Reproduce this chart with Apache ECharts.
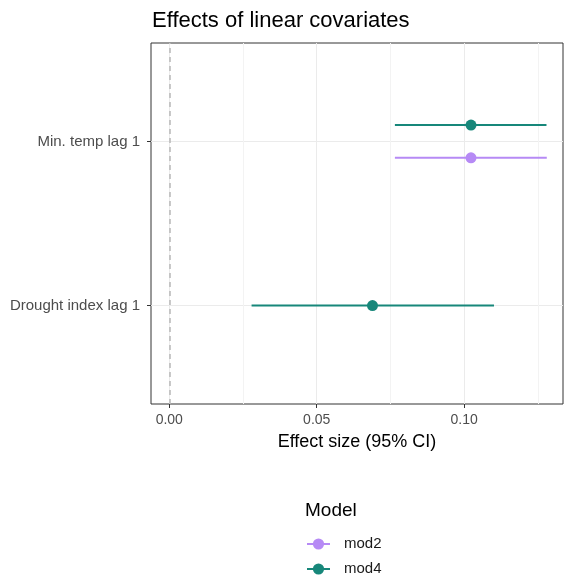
<!DOCTYPE html>
<html>
<head>
<meta charset="utf-8">
<title>Effects of linear covariates</title>
<script src="https://cdn.jsdelivr.net/npm/echarts/dist/echarts.min.js"></script>
<style>
  html, body { margin: 0; padding: 0; background: #fff; }
  #chart { width: 564px; height: 578px; }
</style>
</head>
<body>
<div id="chart"></div>
<script>
// covariates, bottom to top (ggplot order)
var categories = ['Drought index lag 1', 'Min. temp lag 1'];
var models = ['mod2', 'mod4'];
var colors = ['#b68af5', '#17877a'];

// estimates + 95% CI per covariate, null = not in model
var mod2Est = [null, 0.1023];
var mod2Lo  = [null, 0.0765];
var mod2Hi  = [null, 0.1280];
var mod4Est = [0.0689, 0.1023];
var mod4Lo  = [0.0279, 0.0765];
var mod4Hi  = [0.1101, 0.1279];

var xTicks = [0, 0.05, 0.10];
var xMinorTicks = [0.025, 0.075, 0.125];

var est = [mod2Est, mod4Est], lo = [mod2Lo, mod4Lo], hi = [mod2Hi, mod4Hi];

// dodge like position_dodge(width = 0.4)
function buildData(m) {
    var out = [];
    categories.forEach(function (c, i) {
        if (est[m][i] == null) return;
        var present = models.filter(function (_, k) { return est[k][i] != null; });
        var n = present.length, j = present.indexOf(models[m]);
        var y = i + 1 + (j - (n - 1) / 2) * (0.4 / n);
        out.push([est[m][i], lo[m][i], hi[m][i], y]);
    });
    return out;
}

function renderItem(params, api) {
    var y = api.value(3);
    var a = api.coord([api.value(1), y]);
    var b = api.coord([api.value(2), y]);
    var p = api.coord([api.value(0), y]);
    var col = api.visual('color');
    return {
        type: 'group',
        children: [
            { type: 'line', shape: { x1: a[0], y1: a[1], x2: b[0], y2: b[1] }, style: { stroke: col, lineWidth: 2 } },
            { type: 'circle', shape: { cx: p[0], cy: p[1], r: 5.5 }, style: { fill: col } }
        ]
    };
}

var series = [];
// empty line series only give the legend its line+dot icons
models.forEach(function (m, k) {
    series.push({
        name: m, type: 'line', data: [], symbol: 'circle', symbolSize: 10,
        itemStyle: { color: colors[k] }, lineStyle: { color: colors[k], width: 2 }
    });
});
models.forEach(function (m, k) {
    var s = {
        name: m, type: 'custom', renderItem: renderItem,
        itemStyle: { color: colors[k] },
        encode: { x: [0, 1, 2], y: 3 },
        data: buildData(k)
    };
    if (k === 0) {
        s.markLine = {
            silent: true, symbol: 'none', label: { show: false },
            lineStyle: { color: '#b8b8b8', type: [5, 4], width: 1.5 },
            data: [{ xAxis: 0 }]
        };
    }
    series.push(s);
});

var chart = echarts.init(document.getElementById('chart'));
chart.setOption({
    animation: false,
    textStyle: { fontFamily: 'Liberation Sans, Arial, sans-serif' },
    title: [
        { text: 'Effects of linear covariates', left: 147, top: 5,
          textStyle: { fontSize: 22, fontWeight: 'normal', color: '#000' } },
        { text: 'Model', left: 300, top: 496,
          textStyle: { fontSize: 19, fontWeight: 'normal', color: '#000' } }
    ],
    legend: {
        data: models, orient: 'vertical', left: 306, top: 536, height: 60, padding: 0,
        itemWidth: 23, itemHeight: 14, itemGap: 9,
        textStyle: { fontSize: 15, lineHeight: 16, color: '#1a1a1a', padding: [0, 0, 0, 9] }
    },
    grid: {
        left: 151, right: 1, top: 43, bottom: 174,
        show: true, borderColor: '#333', borderWidth: 1, backgroundColor: '#fff'
    },
    xAxis: [{
        type: 'value', min: -0.0062, max: 0.1335,
        name: 'Effect size (95% CI)', nameLocation: 'middle', nameGap: 29,
        nameTextStyle: { fontSize: 18, color: '#000' },
        axisLine: { show: false, onZero: false },
        axisTick: { show: true, customValues: xTicks, length: 4, lineStyle: { color: '#333' } },
        axisLabel: { customValues: xTicks, fontSize: 14, color: '#4d4d4d', margin: 9,
                     formatter: function (v) { return v.toFixed(2); } },
        splitLine: { show: true, lineStyle: { color: '#ebebeb', width: 1 } }
    }, {
        // minor vertical grid lines
        type: 'value', min: -0.0062, max: 0.1335, position: 'bottom',
        axisLine: { show: false, onZero: false }, axisLabel: { show: false },
        axisTick: { show: false, customValues: xMinorTicks },
        splitLine: { show: true, lineStyle: { color: '#f3f3f3', width: 1 } }
    }],
    yAxis: {
        type: 'value', min: 0.4, max: 2.6,
        axisLine: { show: false, onZero: false },
        axisTick: { show: true, customValues: [1, 2], length: 4, lineStyle: { color: '#333' } },
        axisLabel: { customValues: [1, 2], fontSize: 15, color: '#4d4d4d', margin: 11,
                     formatter: function (v) { return categories[Math.round(v) - 1]; } },
        splitLine: { show: true, lineStyle: { color: '#ebebeb', width: 1 } }
    },
    series: series
});
</script>
</body>
</html>
